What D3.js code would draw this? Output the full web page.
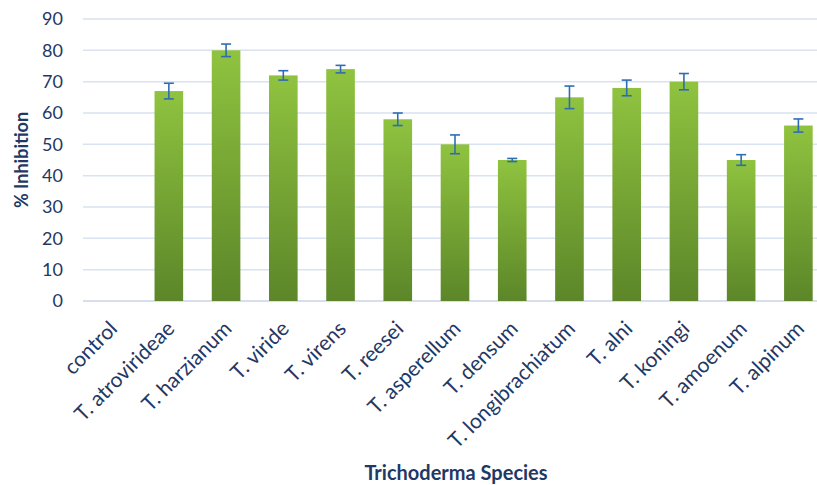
<!DOCTYPE html>
<html>
<head>
<meta charset="utf-8">
<script src="https://cdn.jsdelivr.net/npm/d3@7"></script>
<style>
  body { margin: 0; background: #fff; }
  svg { display: block; font-family: Lato, "Liberation Sans", sans-serif; }
</style>
</head>
<body>
<div id="chart"></div>
<script>
const species = ["control", "T. atrovirideae", "T. harzianum", "T. viride", "T. virens",
  "T. reesei", "T. asperellum", "T. densum", "T. longibrachiatum", "T. alni",
  "T. koningi", "T. amoenum", "T. alpinum"];
const inhibition = [0, 67, 80, 72, 74, 58, 50, 45, 65, 68, 70, 45, 56];
const errors = [null, 2.5, 2, 1.5, 1.2, 2, 3, 0.5, 3.6, 2.5, 2.6, 1.7, 2.1];
const yTicks = [0, 10, 20, 30, 40, 50, 60, 70, 80, 90];

const width = 817, height = 485;
const textColor = "#1f3864";

const svg = d3.select("#chart").append("svg")
  .attr("width", width)
  .attr("height", height);

const grad = svg.append("defs").append("linearGradient")
  .attr("id", "barGrad")
  .attr("x1", 0).attr("y1", 0).attr("x2", 0).attr("y2", 1);
grad.append("stop").attr("offset", "0%").attr("stop-color", "#8fc33f");
grad.append("stop").attr("offset", "100%").attr("stop-color", "#5c8629");

const x = d3.scaleBand()
  .domain(species)
  .range([83, 827])
  .paddingInner(0.5)
  .paddingOuter(0.25);

const y = d3.scaleLinear()
  .domain([0, 90])
  .range([301, 19]);

// gridlines
svg.append("g")
  .selectAll("line")
  .data(yTicks)
  .join("line")
  .attr("x1", 83).attr("x2", 827)
  .attr("y1", d => y(d)).attr("y2", d => y(d))
  .attr("stroke", d => d === 0 ? "#c9d4e8" : "#d9e2f1")
  .attr("stroke-width", 1.5);

// y tick labels
svg.append("g")
  .selectAll("text")
  .data(yTicks)
  .join("text")
  .attr("x", 63)
  .attr("y", d => y(d))
  .attr("dy", "0.36em")
  .attr("text-anchor", "end")
  .attr("fill", textColor)
  .attr("font-size", 18)
  .text(d => d);

// bars
svg.append("g")
  .selectAll("rect")
  .data(species)
  .join("rect")
  .attr("x", d => x(d))
  .attr("width", x.bandwidth())
  .attr("y", (d, i) => y(inhibition[i]))
  .attr("height", (d, i) => y(0) - y(inhibition[i]))
  .attr("fill", "url(#barGrad)");

// error bars
const eb = svg.append("g")
  .attr("stroke", "#2f6db3")
  .attr("stroke-width", 1.6);
species.forEach((s, i) => {
  if (errors[i] == null) return;
  const cx = x(s) + x.bandwidth() / 2;
  const top = y(inhibition[i] + errors[i]);
  const bot = y(inhibition[i] - errors[i]);
  eb.append("line").attr("x1", cx).attr("x2", cx).attr("y1", top).attr("y2", bot);
  eb.append("line").attr("x1", cx - 5).attr("x2", cx + 5).attr("y1", top).attr("y2", top);
  eb.append("line").attr("x1", cx - 5).attr("x2", cx + 5).attr("y1", bot).attr("y2", bot);
});

// x labels
svg.append("g")
  .selectAll("text")
  .data(species)
  .join("text")
  .attr("transform", d => `translate(${x(d) + x.bandwidth() / 2 + 7},330) rotate(-45)`)
  .attr("text-anchor", "end")
  .attr("fill", textColor)
  .attr("font-size", 21)
  .text(d => d);

// axis titles
svg.append("text")
  .attr("transform", "translate(28,160) rotate(-90)")
  .attr("text-anchor", "middle")
  .attr("fill", textColor)
  .attr("font-weight", "bold")
  .attr("font-size", 18)
  .text("% Inhibition");

svg.append("text")
  .attr("x", 456)
  .attr("y", 480)
  .attr("text-anchor", "middle")
  .attr("fill", textColor)
  .attr("font-weight", "bold")
  .attr("font-size", 20)
  .text("Trichoderma Species");
</script>
</body>
</html>
